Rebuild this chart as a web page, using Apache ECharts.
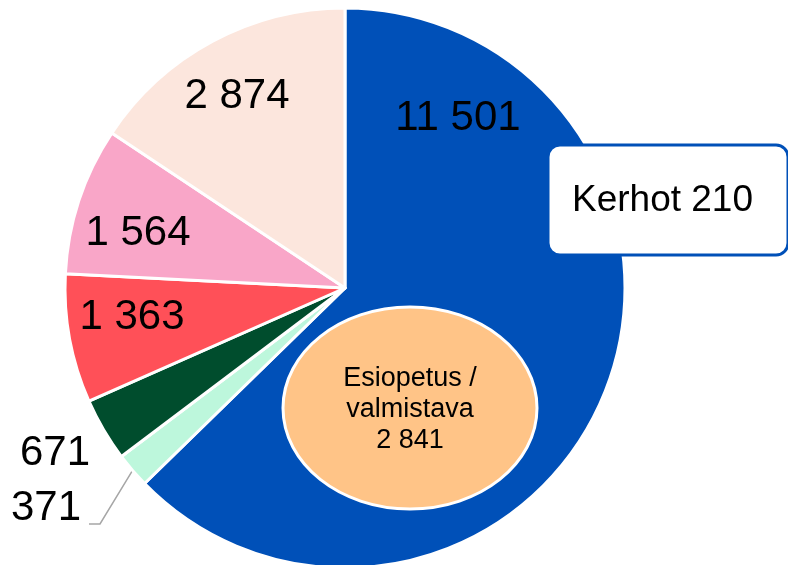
<!DOCTYPE html>
<html>
<head>
    <meta charset="utf-8">
    <script type="text/javascript" src="https://cdn.jsdelivr.net/npm/echarts@6/dist/echarts.min.js"></script>
    <style>
        html, body {margin: 0; padding: 0; background: #fff;}
        #main {width: 788px; height: 565px;}
    </style>
</head>
<body>
<div id="main"></div>
<script type="text/javascript">
    // slices, clockwise from the top
    var sliceNames = ['Perusopetus', 'Muu 1', 'Muu 2', 'Muu 3', 'Muu 4', 'Muu 5'];
    var sliceValues = [11501, 371, 671, 1363, 1564, 2874];
    var sliceColors = ['#0050B8', '#BDF7DC', '#004D2D', '#FF5058', '#F9A6C8', '#FCE6DD'];
    // where each value label sits (px)
    var labelPos = [[458, 118], [46, 508], [55, 453], [132, 317], [138, 233], [237, 96]];

    // the two callouts
    var clubLabel = 'Kerhot';
    var clubValue = 210;
    var preLabel = ['Esiopetus /', 'valmistava'];
    var preValue = 2841;

    var FONT = 'Liberation Sans, Arial, sans-serif';

    function fmt(v) {
        return String(v).replace(/\B(?=(\d{3})+(?!\d))/g, ' ');
    }

    var data = [];
    for (var i = 0; i < sliceValues.length; i++) {
        data.push({
            name: sliceNames[i],
            value: sliceValues[i],
            itemStyle: {color: sliceColors[i]},
            label: {position: i == 1 ? 'outside' : 'inside'},
            labelLine: {show: i == 1}
        });
    }

    var myChart = echarts.init(document.getElementById('main'));
    var option = {
        animation: false,
        series: [{
            type: 'pie',
            center: [345, 288],
            radius: 280,
            startAngle: 90,
            clockwise: true,
            avoidLabelOverlap: false,
            itemStyle: {borderColor: '#fff', borderWidth: 3},
            label: {
                show: true,
                color: '#000',
                fontSize: 42,
                fontFamily: FONT,
                formatter: function (p) { return fmt(p.value); }
            },
            labelLine: {
                length: 10,
                length2: 10,
                lineStyle: {color: '#A6A6A6', width: 1.5}
            },
            labelLayout: function (params) {
                var i = params.dataIndex;
                var out = {x: labelPos[i][0], y: labelPos[i][1], align: 'center', verticalAlign: 'middle'};
                if (i == 1) {
                    var start = params.labelLinePoints ? params.labelLinePoints[0] : [133, 471];
                    out.labelLinePoints = [start, [100, 524], [89, 524]];
                }
                return out;
            },
            data: data
        }],
        graphic: [
            {
                type: 'ellipse', z: 100,
                shape: {cx: 410, cy: 408, rx: 127, ry: 101},
                style: {fill: '#FFC487', stroke: '#fff', lineWidth: 3}
            },
            {
                type: 'text', z: 101, x: 410, y: 410,
                style: {
                    text: preLabel.join('\n') + '\n' + fmt(preValue),
                    fontSize: 27, fontFamily: FONT, fill: '#000',
                    align: 'center', verticalAlign: 'middle', lineHeight: 31
                }
            },
            {
                type: 'rect', z: 100,
                shape: {x: 548, y: 145, width: 240, height: 110, r: 12},
                style: {fill: '#fff', stroke: '#0050B8', lineWidth: 3}
            },
            {
                type: 'text', z: 101, x: 572, y: 201,
                style: {
                    text: clubLabel + ' ' + fmt(clubValue),
                    fontSize: 37, fontFamily: FONT, fill: '#000',
                    align: 'left', verticalAlign: 'middle'
                }
            }
        ]
    };
    myChart.setOption(option);
</script>
</body>
</html>
